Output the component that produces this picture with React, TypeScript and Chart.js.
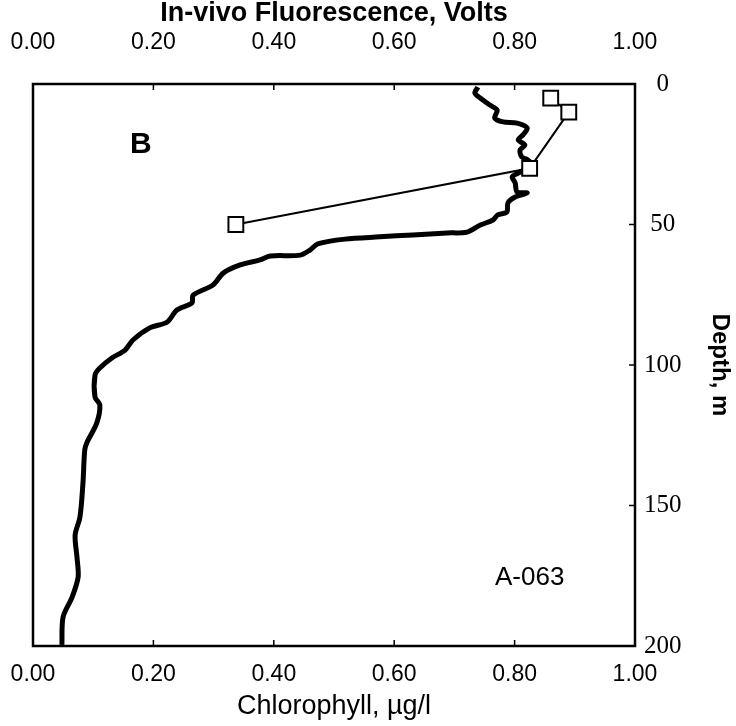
import React, { useEffect, useRef } from "react";
import { Chart, registerables } from "chart.js";

Chart.register(...registerables);

// In-vivo fluorescence profile (Volts) vs depth (m)
const fluorDepth = [
  1.1, 3.2, 5.0, 7.5, 9.3, 12.1, 13.5, 13.9, 15.7, 18.1, 19.9, 21.7, 23.5, 26.0, 27.0, 28.8,
  31.7, 33.1, 35.2, 38.4, 38.8, 40.2, 42.3, 45.6, 46.6, 48.4, 50.2, 52.7, 53.0, 53.7, 54.4,
  55.2, 56.9, 59.1, 60.9, 61.2, 62.6, 64.4, 67.3, 71.5, 75.1, 77.9, 80.4, 84.7, 86.8, 91.1,
  94.7, 97.5, 101.1, 103.6, 111.4, 114.2, 120.6, 127.4, 130.2, 142.0, 154.1, 160.5, 168.3,
  175.4, 182.6, 189.7, 199.6,
];
const fluorVolts = [
  0.739, 0.734, 0.743, 0.759, 0.771, 0.767, 0.781, 0.804, 0.821, 0.814, 0.806, 0.817, 0.809,
  0.812, 0.822, 0.829, 0.806, 0.796, 0.801, 0.804, 0.821, 0.801, 0.789, 0.787, 0.772, 0.764,
  0.743, 0.721, 0.688, 0.631, 0.576, 0.518, 0.473, 0.46, 0.444, 0.394, 0.377, 0.344, 0.316,
  0.299, 0.266, 0.264, 0.239, 0.223, 0.194, 0.166, 0.153, 0.131, 0.111, 0.103, 0.103, 0.111,
  0.106, 0.09, 0.086, 0.083, 0.078, 0.07, 0.073, 0.075, 0.065, 0.05, 0.048,
];

// Extracted chlorophyll samples (µg/l) vs depth (m)
const chlDepth = [5, 10, 30, 50];
const chlValues = [0.86, 0.89, 0.825, 0.337];

// Axis ticks and labels
const xTicks = [0, 0.2, 0.4, 0.6, 0.8, 1.0];
const depthTicks = [0, 50, 100, 150, 200];
const topTitle = "In-vivo Fluorescence, Volts";
const bottomTitle = "Chlorophyll, µg/l";
const rightTitle = "Depth, m";
const panelLabel = "B";
const stationLabel = "A-063";

const SANS = "'Liberation Sans', Arial, sans-serif";
const SERIF = "'Liberation Serif', 'Times New Roman', serif";

const framePlugin = {
  id: "framePlugin",
  afterDatasetsDraw(chart: any) {
    const { ctx, chartArea } = chart;
    const { left, right, top, bottom } = chartArea;
    const xs = chart.scales.x;
    const x2 = chart.scales.x2;
    const ys = chart.scales.y;
    ctx.save();
    ctx.strokeStyle = "#000";
    ctx.lineWidth = 1.5;
    const tl = 6;
    ctx.beginPath();
    xTicks.forEach((v) => {
      const px = x2.getPixelForValue(v);
      ctx.moveTo(px, top);
      ctx.lineTo(px, top + tl);
      const pb = xs.getPixelForValue(v);
      ctx.moveTo(pb, bottom);
      ctx.lineTo(pb, bottom - tl);
    });
    depthTicks.forEach((d) => {
      const py = ys.getPixelForValue(d);
      ctx.moveTo(right, py);
      ctx.lineTo(right - tl, py);
    });
    ctx.stroke();
    ctx.lineWidth = 2.5;
    ctx.strokeRect(left, top, right - left, bottom - top);

    ctx.fillStyle = "#000";
    ctx.textAlign = "center";
    ctx.textBaseline = "middle";
    ctx.font = `bold 30px ${SANS}`;
    ctx.fillText(panelLabel, x2.getPixelForValue(0.179), ys.getPixelForValue(21.5));
    ctx.font = `26px ${SANS}`;
    ctx.fillText(stationLabel, xs.getPixelForValue(0.825), ys.getPixelForValue(175.8));
    ctx.restore();
  },
};

const hiddenTicks = (len: number) => ({
  display: true,
  drawOnChartArea: false,
  drawTicks: true,
  tickLength: len,
  tickColor: "rgba(0,0,0,0)",
});

export default function App() {
  const ref = useRef<HTMLCanvasElement>(null);
  useEffect(() => {
    if (!ref.current) return;
    const chart = new Chart(ref.current, {
      type: "scatter",
      data: {
        datasets: [
          {
            label: "Chlorophyll",
            data: chlDepth.map((d, i) => ({ x: chlValues[i], y: d })),
            xAxisID: "x",
            yAxisID: "y",
            showLine: true,
            borderColor: "#000",
            borderWidth: 2,
            pointStyle: "rect",
            pointRadius: 10.5,
            pointBackgroundColor: "#fff",
            pointBorderColor: "#000",
            pointBorderWidth: 2,
            order: 0,
          },
          {
            label: "Fluorescence",
            data: fluorDepth.map((d, i) => ({ x: fluorVolts[i], y: d })),
            xAxisID: "x2",
            yAxisID: "y",
            showLine: true,
            borderColor: "#000",
            borderWidth: 5,
            pointRadius: 0,
            tension: 0.3,
            order: 1,
          },
        ],
      },
      options: {
        animation: false,
        responsive: false,
        layout: { padding: { left: 33, top: 0, right: 0, bottom: 0 } },
        plugins: { legend: { display: false }, tooltip: { enabled: false } },
        scales: {
          x: {
            type: "linear",
            position: "bottom",
            min: 0,
            max: 1,
            afterBuildTicks: (s: any) => {
              s.ticks = xTicks.map((v) => ({ value: v }));
            },
            afterFit: (s: any) => {
              s.height = 80;
            },
            grid: hiddenTicks(15),
            border: { display: false },
            ticks: {
              color: "#000",
              padding: 0,
              maxRotation: 0,
              autoSkip: false,
              font: { family: SANS, size: 23 },
              callback: (v: any) => Number(v).toFixed(2),
            },
            title: {
              display: true,
              text: bottomTitle,
              color: "#000",
              font: { family: SANS, size: 27, lineHeight: 1 },
              padding: { top: 0, bottom: 6 },
            },
          },
          x2: {
            type: "linear",
            position: "top",
            min: 0,
            max: 1,
            afterBuildTicks: (s: any) => {
              s.ticks = xTicks.map((v) => ({ value: v }));
            },
            afterFit: (s: any) => {
              s.height = 84;
            },
            grid: hiddenTicks(28),
            border: { display: false },
            ticks: {
              color: "#000",
              padding: 0,
              maxRotation: 0,
              autoSkip: false,
              font: { family: SANS, size: 23 },
              callback: (v: any) => Number(v).toFixed(2),
            },
            title: {
              display: true,
              text: topTitle,
              color: "#000",
              font: { family: SANS, size: 27, weight: "bold", lineHeight: 1 },
              padding: { top: 0, bottom: 0 },
            },
          },
          y: {
            type: "linear",
            position: "right",
            reverse: true,
            min: 0,
            max: 200,
            afterBuildTicks: (s: any) => {
              s.ticks = depthTicks.map((v) => ({ value: v }));
            },
            afterFit: (s: any) => {
              s.width = 101;
            },
            grid: hiddenTicks(0),
            border: { display: false },
            ticks: {
              color: "#000",
              padding: 9,
              crossAlign: "center",
              autoSkip: false,
              font: { family: SERIF, size: 25 },
              callback: (v: any) => String(v),
            },
            title: {
              display: true,
              text: rightTitle,
              color: "#000",
              font: { family: SANS, size: 24, weight: "bold", lineHeight: 1 },
              padding: { top: 4, bottom: 4 },
            },
          },
        },
      },
      plugins: [framePlugin],
    } as any);
    return () => chart.destroy();
  }, []);
  return (
    <div style={{ position: "absolute", left: 0, top: 0, width: 736, height: 726, background: "#fff" }}>
      <canvas ref={ref} width={736} height={726} />
    </div>
  );
}
